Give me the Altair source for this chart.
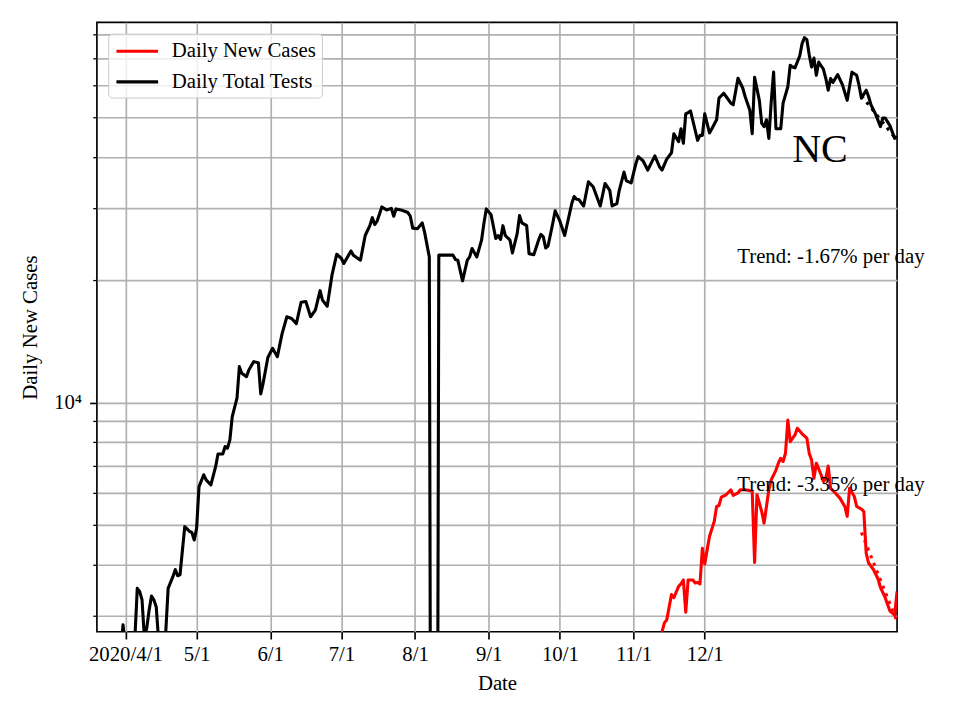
import altair as alt
import pandas as pd

# ---------------- data ----------------
# day offsets are counted from 2020-04-01
base_date = "2020-04-01"

tests_days = [-10, -5, -2, -1, 0, 1, 2, 3, 4, 5, 6, 7, 8, 9, 10, 11, 12, 13, 14, 15, 16, 17, 18,
              20, 21, 22, 23, 25, 27, 28, 29, 30, 31, 33, 34, 36, 38, 39, 41, 42, 43, 44, 45,
              47, 48, 49, 51, 52, 54, 56, 57, 58, 60, 62, 64, 66, 68, 70, 72, 74, 76, 78, 80,
              82, 83, 85, 87, 89, 91, 92, 95, 96, 99, 101, 103, 104, 105, 106, 108, 110, 112,
              113, 114, 116, 119, 120, 121, 123, 125, 126, 128, 129, 130, 131, 132, 138, 139,
              140, 142, 144, 145, 146, 148, 150, 151, 152, 154, 156, 157, 158, 159, 160, 162,
              163, 165, 166, 167, 169, 170, 172, 174, 175, 176, 177, 178, 180, 181, 183, 185,
              188, 189, 190, 191, 193, 195, 197, 200, 202, 204, 205, 207, 208, 210, 211, 213,
              215, 216, 218, 220, 223, 225, 226, 228, 230, 231, 233, 234, 235, 236, 237, 238,
              240, 241, 242, 243, 244, 246, 247, 249, 250, 252, 253, 255, 256, 258, 260, 261,
              263, 264, 265, 267, 268, 269, 270, 271, 272, 273, 274, 276, 277, 279, 280, 281,
              282, 284, 285, 286, 287, 288, 289, 290, 291, 292, 294, 295, 296, 297, 298, 300,
              302, 304, 306, 308, 309, 310, 312, 313, 314, 316, 318, 319, 320, 322, 323, 324, 325]
tests_vals = [1800, 2200, 2400, 2850, 2500, 2300, 2400, 2300, 2650, 3500, 3440, 3280, 2650, 2800, 3100, 3350, 3280, 3150, 2600, 2400, 2500, 2740, 3500,
              3740, 3890, 3760, 3780, 4960, 4830, 4800, 4600, 4920, 6220, 6650, 6460, 6280, 6960, 7480, 7480, 7800, 7730, 8100, 9240,
              10250, 12250, 11800, 11580, 12020, 12600, 12530, 10500, 11150, 12900, 13590, 12960, 14760, 16240, 16080, 15620, 17630, 17700, 16240, 16870,
              18820, 17840, 17240, 20540, 23120, 22570, 21940, 23550, 22990, 22360, 25700, 27230, 28430, 27340, 27870, 30200, 29700, 29960,
              28660, 29870, 29700, 29260, 28660, 26800, 26700, 27600, 26200, 22770, 100, 100, 100, 23000, 23000, 22450,
              22360, 19900, 22360, 22770, 23880, 22770, 25030, 27540, 29870, 28920, 25270, 25700, 25130, 27170, 25700, 25030,
              23290, 25960, 28760, 27600, 27170, 23200, 23050, 25030, 25860, 25500, 23960, 24220, 27540, 29540, 27870, 25700,
              30780, 32040, 31550, 31490, 30370, 34800, 33850, 30370, 34480, 33170, 30370, 30780, 33180, 36770, 35000, 34600,
              38600, 40140, 39220, 37200, 40300, 37830, 37200, 39580, 41030, 45660, 43670, 46970, 43280, 51100, 51480, 51950,
              46520, 44010, 45260, 45260, 51100, 45900, 46970, 49440, 55860, 57420, 56370, 54290, 53790, 62490, 59140, 56370,
              52160, 45660, 62840, 55160, 48440, 47540, 49440, 44500, 54640, 64680, 46970, 46970, 54290, 59550, 67240, 66600,
              66250, 70880, 76010, 78620, 77750, 71360, 66600, 70040, 63530, 68480, 65750, 62390, 58400, 62390, 61040, 63800,
              60240, 55160, 64680, 63530, 60000, 55860, 58400, 56370, 53790, 50950, 47540, 49920, 49920, 47820, 46140, 44500, 45000]

cases_days = [225, 227, 228, 230, 231, 233, 234, 235, 236, 237, 239, 240, 241, 242, 243, 244, 246,
              248, 249, 250, 251, 253, 255, 256, 258, 259, 261, 263, 264, 265, 266, 268, 269, 271,
              272, 274, 275, 276, 277, 278, 279, 280, 282, 283, 285, 287, 288, 289, 290, 291, 293,
              294, 295, 296, 297, 299, 301, 303, 304, 305, 307, 308, 310, 311, 312, 313, 315, 317,
              318, 320, 322, 324, 325]
cases_vals = [2600, 2880, 2930, 3380, 3320, 3540, 3590, 3670, 3060, 3670, 3670, 3610, 3620, 3590, 4390, 4020, 4690,
              5110, 5560, 5590, 5860, 5940, 6110, 5920, 6000, 6110, 6110, 6080, 6050, 4050, 5940, 5400, 5060, 6110,
              6460, 6830, 7100, 7300, 7170, 7510, 9060, 8020, 8330, 8650, 8380, 8180, 7510, 7230, 6520, 7100, 6650,
              6400, 6520, 6990, 6160, 6000, 5820, 5560, 5260, 6160, 5880, 5560, 5480, 5400, 4270, 4040, 3900, 3690,
              3520, 3320, 3080, 3010, 3440]

trend_days = [310, 325]
tests_trend = [56600, 44000]
cases_trend = [4800, 2900]

series_names = ["Daily New Cases", "Daily Total Tests"]
series_colors = ["#ff0000", "#000000"]

month_ticks = ["2020-04-01", "2020-05-01", "2020-06-01", "2020-07-01", "2020-08-01",
               "2020-09-01", "2020-10-01", "2020-11-01", "2020-12-01"]
y_ticks = [3000, 4000, 5000, 6000, 7000, 8000, 9000, 10000,
           20000, 30000, 40000, 50000, 60000, 70000, 80000]
x_range = ["2020-03-20", "2021-02-20"]
y_range = [2740, 85700]

note_texts = ["NC", "Trend: -1.67% per day", "Trend: -3.35% per day"]
note_days = [292.5, 257.7, 257.7]
note_vals = [38940, 21950, 6070]

# ---------------- helpers ----------------
FONT = "Liberation Serif"
base_ts = pd.Timestamp(base_date, tz="UTC")


def iso(days):
    return [(base_ts + pd.Timedelta(days=float(d))).strftime("%Y-%m-%dT%H:%M:%SZ") for d in days]


def dt(s):
    t = pd.Timestamp(s)
    return alt.DateTime(year=t.year, month=t.month, date=t.day, utc=True)


lines = pd.concat([
    pd.DataFrame({"date": iso(tests_days), "value": tests_vals, "series": series_names[1]}),
    pd.DataFrame({"date": iso(cases_days), "value": cases_vals, "series": series_names[0]}),
], ignore_index=True)
trend_tests = pd.DataFrame({"date": iso(trend_days), "value": tests_trend})
trend_cases = pd.DataFrame({"date": iso(trend_days), "value": cases_trend})
notes = pd.DataFrame({"date": iso(note_days), "value": note_vals, "label": note_texts})

x_axis = alt.Axis(
    values=[dt(s) for s in month_ticks],
    labelExpr="utcmonth(datum.value) == 3 ? utcFormat(datum.value, '%Y/%-m/%-d') : utcFormat(datum.value, '%-m/%-d')",
    grid=True, gridColor="#b0b0b0", gridWidth=1.67,
    domain=False, ticks=True, tickSize=7.3, tickWidth=1.67, tickColor="black",
    labelFont=FONT, labelFontSize=20.8, labelColor="black", labelPadding=6,
    labelFlush=False, labelOverlap=False,
    title="Date", titleFont=FONT, titleFontSize=20.8, titleFontWeight="normal",
    titleColor="black", titleBaseline="alphabetic", titleY=58,
)
y_axis = alt.Axis(
    values=y_ticks,
    labelExpr="datum.value == 10000 ? '10⁴' : ''",
    grid=True, gridColor="#b0b0b0", gridWidth=1.67,
    domain=False, ticks=True,
    tickSize={"condition": {"test": "datum.value == 10000", "value": 7.3}, "value": 4.2},
    tickWidth={"condition": {"test": "datum.value == 10000", "value": 1.67}, "value": 1.25},
    tickColor="black",
    labelFont=FONT, labelFontSize=20.8, labelColor="black", labelPadding=8,
    labelOverlap=False, labelFlush=False,
    title="Daily New Cases", titleFont=FONT, titleFontSize=20.8, titleFontWeight="normal",
    titleColor="black", titleAngle=270, titleBaseline="alphabetic", titleAlign="center",
    titleX=-60, titleY=305,
)

x_enc = alt.X("date:T", scale=alt.Scale(type="utc", domain=[dt(x_range[0]), dt(x_range[1])], nice=False),
              axis=x_axis)
y_enc = alt.Y("value:Q", scale=alt.Scale(type="log", domain=y_range, nice=False), axis=y_axis)

legend = alt.Legend(
    title=None, orient="none", legendX=11.3, legendY=11.3, direction="vertical",
    symbolType="M-2,0H2", symbolSize=435, symbolStrokeWidth=3.1, symbolOffset=11.5,
    labelFont=FONT, labelFontSize=20.8, labelColor="black", labelOffset=22.5,
    padding=5.6, rowPadding=8.7,
    fillColor="rgba(255,255,255,0.8)", strokeColor="#cccccc", cornerRadius=4,
)

main = alt.Chart(lines).mark_line(clip=True, strokeWidth=3.1, strokeJoin="round").encode(
    x=x_enc, y=y_enc,
    color=alt.Color("series:N", scale=alt.Scale(domain=series_names, range=series_colors), legend=legend),
)
tt = alt.Chart(trend_tests).mark_line(clip=True, color="black", strokeWidth=3.1,
                                       strokeDash=[3.1, 5.1]).encode(x=x_enc, y=y_enc)
tc = alt.Chart(trend_cases).mark_line(clip=True, color="#ff0000", strokeWidth=3.1,
                                       strokeDash=[3.1, 5.1]).encode(x=x_enc, y=y_enc)
nc = alt.Chart(notes.iloc[[0]]).mark_text(font=FONT, fontSize=40, align="center", baseline="alphabetic",
                                          color="black").encode(x=x_enc, y=y_enc, text="label:N")
tr = alt.Chart(notes.iloc[1:]).mark_text(font=FONT, fontSize=20.8, align="left", baseline="alphabetic",
                                         color="black").encode(x=x_enc, y=y_enc, text="label:N")

chart = alt.layer(main, tt, tc, nc, tr).properties(
    width=801, height=610,
    padding={"left": 89, "top": 14, "right": 55, "bottom": 80},
    autosize=alt.AutoSizeParams(type="none"),
).configure(font=FONT).configure_view(stroke="black", strokeWidth=1.67)

chart.save("out.html", embed_options={"renderer": "svg", "actions": False})
